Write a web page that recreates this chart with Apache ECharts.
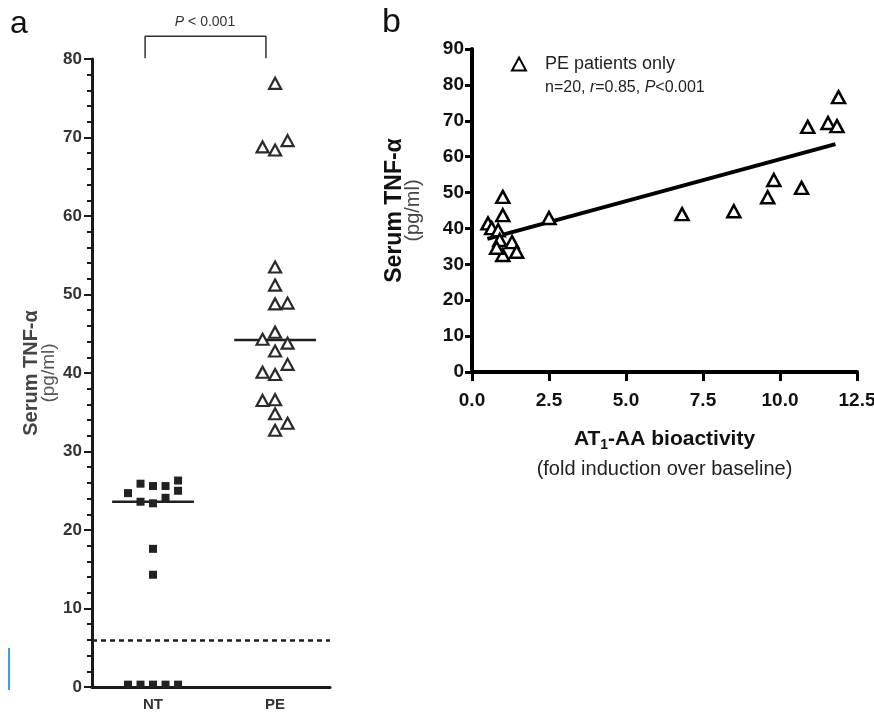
<!DOCTYPE html>
<html lang="en">

<head>
  <meta charset="utf-8">
  <title>Serum TNF-alpha</title>
  <style>
    html, body { margin: 0; padding: 0; background: #fff; }
    #main { width: 874px; height: 715px; }
  </style>
</head>

<body>
  <div id="main"></div>
  <script src="https://cdn.jsdelivr.net/npm/echarts@6/dist/echarts.min.js"></script>
  <script>
    // panel a: NT group (squares), value + column slot in the dot plot
    var ntValues = [24.7, 0.3, 25.9, 23.6, 0.3, 25.6, 23.4, 17.6, 14.3, 0.3, 25.6, 24.1, 0.3, 26.3, 25.0, 0.3];
    var ntSlots  = [-2, -2, -1, -1, -1, 0, 0, 0, 0, 0, 1, 1, 1, 2, 2, 2];
    // panel a: PE group (triangles)
    var peValues = [76.9, 68.4, 53.5, 51.2, 48.8, 45.2, 42.8, 39.8, 36.6, 34.8, 32.7,
                    68.8, 44.3, 40.1, 36.5,
                    69.6, 48.9, 43.8, 41.1, 33.6];
    var peSlots  = [0, 0, 0, 0, 0, 0, 0, 0, 0, 0, 0,
                    -1, -1, -1, -1,
                    1, 1, 1, 1, 1];
    var groups = ['NT', 'PE'];
    var groupMedians = [23.6, 44.2];
    var detectionLimit = 6;

    // panel b: AT1-AA bioactivity vs TNF-alpha, PE patients
    var atActivity = [0.52, 0.64, 0.85, 0.9, 1.0, 1.0, 1.0, 1.3, 0.8, 1.45, 2.5,
                      6.82, 8.5, 9.6, 9.8, 10.7, 10.9, 11.56, 11.85, 11.9];
    var tnfLevel   = [41.4, 40.1, 39.5, 36.8, 48.8, 43.7, 32.6, 36.2, 34.6, 33.5, 42.9,
                      44.0, 44.8, 48.7, 53.5, 51.3, 68.3, 69.4, 68.5, 76.6];
    var fitX = [0.5, 11.8];
    var fitY = [37.1, 63.5];

    var sans = "'Liberation Sans', Arial, sans-serif";
    var greyInk = '#333';

    // group position on the x axis of panel a (NT = 1, PE = 3), slot spacing
    var slotStep = 0.205;
    function groupX(i) { return 1 + 2 * i; }

    var ntData = ntValues.map(function (v, i) { return [groupX(0) + ntSlots[i] * slotStep, v]; });
    var peData = peValues.map(function (v, i) { return [groupX(1) + peSlots[i] * slotStep, v]; });
    var medianData = groupMedians.map(function (m, i) {
      return [[groupX(i) - 0.67, m], [groupX(i) + 0.67, m]];
    });
    var scatterB = atActivity.map(function (x, i) { return [x, tnfLevel[i]]; });
    var fitData = fitX.map(function (x, i) { return [x, fitY[i]]; });

    var chart = echarts.init(document.getElementById('main'));

    var option = {
      animation: false,
      backgroundColor: '#fff',
      grid: [
        { left: 92, top: 59, width: 238, height: 628, containLabel: false, outerBoundsMode: 'none' },
        { left: 472, top: 49, width: 385, height: 323, containLabel: false, outerBoundsMode: 'none' }
      ],
      xAxis: [
        {
          gridIndex: 0,
          type: 'value',
          min: 0,
          max: 3.9,
          interval: 1,
          splitLine: { show: false },
          axisTick: { show: false },
          axisLine: { lineStyle: { color: '#1a1a1a', width: 3 } },
          axisLabel: {
            margin: 10,
            fontFamily: sans,
            fontWeight: 'bold',
            fontSize: 15,
            color: greyInk,
            showMaxLabel: false,
            formatter: function (v) {
              if (v === groupX(0)) return groups[0];
              if (v === groupX(1)) return groups[1];
              return '';
            }
          }
        },
        {
          gridIndex: 1,
          type: 'value',
          min: 0,
          max: 12.5,
          interval: 2.5,
          splitLine: { show: false },
          axisLine: { lineStyle: { color: '#000', width: 4 } },
          axisTick: { length: 9, lineStyle: { color: '#000', width: 3 } },
          axisLabel: {
            margin: 19,
            fontFamily: sans,
            fontWeight: 'bold',
            fontSize: 19,
            color: '#111',
            formatter: function (v) { return v.toFixed(1); }
          },
          name: '{b|AT}{s|1}{b|-AA bioactivity}\n{n|(fold induction over baseline)}',
          nameLocation: 'middle',
          nameGap: 52,
          nameTextStyle: {
            rich: {
              b: { fontFamily: sans, fontWeight: 'bold', fontSize: 21, color: '#111', lineHeight: 30 },
              s: { fontFamily: sans, fontWeight: 'bold', fontSize: 14, color: '#111', padding: [12, 0, 0, 0] },
              n: { fontFamily: sans, fontSize: 20, color: '#222', lineHeight: 30 }
            }
          }
        }
      ],
      yAxis: [
        {
          gridIndex: 0,
          type: 'value',
          min: 0,
          max: 80,
          interval: 10,
          splitLine: { show: false },
          axisLine: { show: true, lineStyle: { color: '#1a1a1a', width: 3 } },
          axisTick: { length: 8, lineStyle: { color: '#1a1a1a', width: 2 } },
          minorTick: { show: true, splitNumber: 5, length: 5, lineStyle: { color: '#1a1a1a', width: 2 } },
          axisLabel: {
            margin: 10,
            fontFamily: sans,
            fontWeight: 'bold',
            fontSize: 17,
            color: greyInk
          },
          name: '{b|Serum TNF-α}\n{n|(pg/ml)}',
          nameLocation: 'middle',
          nameRotate: 90,
          nameGap: 35,
          nameTextStyle: {
            rich: {
              b: { fontFamily: sans, fontWeight: 'bold', fontSize: 20, color: '#444', lineHeight: 17 },
              n: { fontFamily: sans, fontSize: 19, color: '#555', lineHeight: 17 }
            }
          }
        },
        {
          gridIndex: 1,
          type: 'value',
          min: 0,
          max: 90,
          interval: 10,
          splitLine: { show: false },
          axisLine: { show: true, lineStyle: { color: '#000', width: 4 } },
          axisTick: { length: 7, lineStyle: { color: '#000', width: 3 } },
          axisLabel: {
            margin: 8,
            fontFamily: sans,
            fontWeight: 'bold',
            fontSize: 19,
            color: '#111'
          },
          name: '{b|Serum TNF-α}\n{n|(pg/ml)}',
          nameLocation: 'middle',
          nameRotate: 90,
          nameGap: 49,
          nameTextStyle: {
            rich: {
              b: { fontFamily: sans, fontWeight: 'bold', fontSize: 23, color: '#111', lineHeight: 19 },
              n: { fontFamily: sans, fontSize: 20, color: '#444', lineHeight: 19 }
            }
          }
        }
      ],
      legend: {
        show: true,
        data: ['PE patients only'],
        left: 506,
        top: 50,
        itemWidth: 14,
        itemHeight: 13,
        formatter: '{t|{name}}',
        textStyle: {
          rich: { t: { fontFamily: sans, fontSize: 18, color: '#222', padding: [0, 0, 0, 14] } }
        }
      },
      graphic: [
        { type: 'text', left: 10, top: 8, style: { text: 'a', font: '32px ' + sans, fill: '#111' } },
        { type: 'text', left: 382, top: 6, style: { text: 'b', font: '34px ' + sans, fill: '#111' } },
        {
          type: 'text', x: 205, y: 22,
          style: {
            text: '{i|P} < 0.001',
            align: 'center',
            verticalAlign: 'middle',
            rich: {
              i: { fontFamily: sans, fontStyle: 'italic', fontSize: 14, fill: greyInk }
            },
            font: '14px ' + sans,
            fill: greyInk
          }
        },
        {
          type: 'text', x: 545, y: 88,
          style: {
            text: 'n=20, {i|r}=0.85, {i|P}<0.001',
            verticalAlign: 'middle',
            rich: {
              i: { fontFamily: sans, fontStyle: 'italic', fontSize: 16, fill: '#222' }
            },
            font: '16px ' + sans,
            fill: '#222'
          }
        },
        { type: 'rect', shape: { x: 8, y: 648, width: 2, height: 42 }, style: { fill: '#3a9fe6' } }
      ],
      series: [
        {
          name: 'NT',
          type: 'scatter',
          xAxisIndex: 0,
          yAxisIndex: 0,
          symbol: 'rect',
          symbolSize: 8,
          itemStyle: { color: '#222', opacity: 1 },
          data: ntData,
          z: 4
        },
        {
          name: 'PE',
          type: 'scatter',
          xAxisIndex: 0,
          yAxisIndex: 0,
          symbol: 'triangle',
          symbolSize: [12, 11],
          itemStyle: { color: '#fff', borderColor: '#2a2a2a', borderWidth: 2.2, opacity: 1 },
          data: peData,
          z: 4
        },
        {
          type: 'line',
          xAxisIndex: 0,
          yAxisIndex: 0,
          data: medianData[0],
          symbol: 'none',
          lineStyle: { color: '#1f1f1f', width: 2.5 },
          z: 3,
          markLine: {
            silent: true,
            symbol: 'none',
            label: { show: false },
            lineStyle: { color: '#1f1f1f', width: 2.5, type: [5, 4] },
            data: [{ yAxis: detectionLimit }]
          }
        },
        {
          type: 'line',
          xAxisIndex: 0,
          yAxisIndex: 0,
          data: medianData[1],
          symbol: 'none',
          lineStyle: { color: '#1f1f1f', width: 2.5 },
          z: 3
        },
        {
          // significance bracket above the two groups
          type: 'line',
          xAxisIndex: 0,
          yAxisIndex: 0,
          clip: false,
          data: [[0.87, 80.1], [0.87, 82.9], [2.85, 82.9], [2.85, 80.1]],
          symbol: 'none',
          lineStyle: { color: '#333', width: 1.5 }
        },
        {
          name: 'PE patients only',
          type: 'scatter',
          xAxisIndex: 1,
          yAxisIndex: 1,
          symbol: 'triangle',
          symbolSize: [13, 12],
          itemStyle: { color: '#fff', borderColor: '#000', borderWidth: 2.5, opacity: 1 },
          data: scatterB,
          z: 4
        },
        {
          type: 'line',
          xAxisIndex: 1,
          yAxisIndex: 1,
          data: fitData,
          symbol: 'none',
          lineStyle: { color: '#000', width: 4 },
          z: 3
        }
      ]
    };

    chart.setOption(option);
  </script>
</body>

</html>
